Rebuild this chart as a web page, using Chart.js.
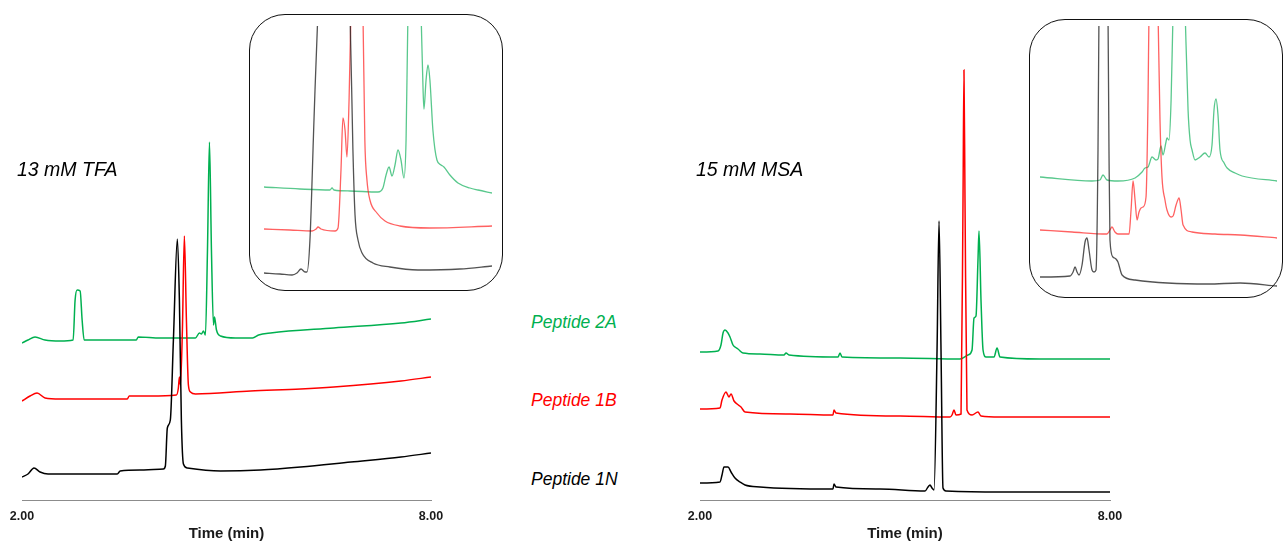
<!DOCTYPE html>
<html>
<head>
<meta charset="utf-8">
<script src="https://cdn.jsdelivr.net/npm/chart.js@4.4.0/dist/chart.umd.min.js"></script>
<style>
body { margin: 0; width: 1284px; height: 541px; overflow: hidden; background: #fff; position: relative; font-family: "Liberation Sans", Arial, sans-serif; }
canvas { position: absolute; }
.box { position: absolute; box-sizing: border-box; border: 1.6px solid #111; border-radius: 36px; background: #fff; }
.lbl { position: absolute; font-style: italic; line-height: 1; white-space: nowrap; }
</style>
</head>
<body>
<canvas id="tfaMain" width="460" height="543" style="left:0;top:0"></canvas>
<canvas id="msaMain" width="460" height="543" style="left:678px;top:0"></canvas>
<div class="box" style="left:249px;top:14px;width:254px;height:277px"></div>
<canvas id="tfaZoom" width="228" height="264" style="left:264px;top:26px"></canvas>
<div class="box" style="left:1029px;top:19px;width:254px;height:279px"></div>
<canvas id="msaZoom" width="237" height="272" style="left:1040px;top:26px"></canvas>

<div class="lbl" style="left:17px;top:160px;font-size:19.5px">13 mM TFA</div>
<div class="lbl" style="left:696px;top:160px;font-size:19.5px">15 mM MSA</div>
<div class="lbl" style="left:531px;top:314px;font-size:17.5px;color:#00b050">Peptide 2A</div>
<div class="lbl" style="left:531px;top:392px;font-size:17.5px;color:#ff0000">Peptide 1B</div>
<div class="lbl" style="left:531px;top:471px;font-size:17.5px;color:#000">Peptide 1N</div>

<script>
// [time (min), signal (a.u., stacked)]
tfa1N = [[2.000,23],[2.088,26],[2.176,32],[2.265,28],[2.382,26],[2.853,26],[3.397,26],[3.441,29],[3.735,30],[4.074,31],[4.103,34],[4.132,72],[4.176,80],[4.221,160],[4.279,261],[4.309,200],[4.338,80],[4.368,36],[4.426,32],[4.912,29],[5.500,30],[6.088,33],[6.824,38],[7.559,43],[8.000,47]]
tfa1B = [[2.000,99],[2.118,104],[2.221,107],[2.338,102],[2.559,101],[3.544,101],[3.574,104],[3.882,104],[4.265,105],[4.294,112],[4.309,123],[4.324,115],[4.353,170],[4.382,264],[4.412,180],[4.441,115],[4.471,108],[4.544,106],[5.353,109],[6.088,111],[6.574,113],[7.559,119],[8.000,123]]
tfa2A = [[2.000,157],[2.088,160],[2.191,163],[2.338,160],[2.559,159],[2.750,160],[2.779,200],[2.809,210],[2.853,209],[2.882,180],[2.912,160],[3.147,160],[3.676,160],[3.706,163],[4.029,162],[4.544,162],[4.603,167],[4.632,166],[4.662,169],[4.691,165],[4.721,250],[4.750,358],[4.779,250],[4.809,175],[4.824,183],[4.853,170],[4.912,164],[5.132,162],[5.382,162],[5.471,165],[5.647,167],[6.574,172],[7.559,177],[8.000,181]]

msa1N = [[2.000,17],[2.293,18],[2.322,25],[2.351,33],[2.410,33],[2.454,28],[2.512,22],[2.585,18],[2.659,15],[2.878,13],[3.946,11],[3.961,16],[3.990,13],[4.634,11],[5.293,9],[5.337,13],[5.366,15],[5.395,12],[5.425,10],[5.469,150],[5.498,279],[5.527,150],[5.556,12],[5.600,9],[6.390,8],[8.000,8]]
msa1B = [[2.000,91],[2.293,92],[2.322,100],[2.381,108],[2.424,103],[2.454,106],[2.498,99],[2.542,96],[2.600,93],[2.659,88],[3.317,86],[3.946,85],[3.961,90],[3.990,87],[4.927,84],[5.659,83],[5.688,85],[5.717,90],[5.746,85],[5.820,86],[5.849,300],[5.863,430],[5.878,300],[5.907,90],[5.981,85],[6.068,88],[6.112,84],[6.390,83],[8.000,83]]
msa2A = [[2.000,148],[2.263,149],[2.307,155],[2.337,167],[2.366,170],[2.410,167],[2.439,163],[2.483,155],[2.512,153],[2.556,151],[2.629,147],[2.878,146],[3.229,145],[3.259,147],[3.302,145],[4.020,143],[4.049,147],[4.078,143],[4.927,142],[5.805,141],[5.922,145],[5.981,150],[6.010,182],[6.039,184],[6.068,240],[6.083,269],[6.112,200],[6.127,170],[6.142,150],[6.186,143],[6.303,143],[6.347,152],[6.390,143],[6.976,141],[8.000,141]]

// zoomed insets
tfaZoom1N = [[3.850,17],[3.941,16],[4.010,15],[4.038,17],[4.061,21],[4.084,18],[4.095,18],[4.112,50],[4.135,170],[4.158,280],[4.243,490],[4.340,280],[4.357,140],[4.369,75],[4.386,50],[4.409,37],[4.471,27],[4.568,23],[4.728,20],[4.967,21],[5.150,24]]
tfaZoom1B = [[3.850,61],[3.998,60],[4.124,59],[4.147,61],[4.158,63],[4.175,61],[4.255,59],[4.272,62],[4.289,120],[4.300,172],[4.312,160],[4.323,133],[4.335,190],[4.346,280],[4.380,490],[4.414,280],[4.425,150],[4.437,110],[4.454,90],[4.494,77],[4.540,69],[4.625,64],[4.796,62],[5.150,64]]
tfaZoom2A = [[3.850,103],[4.055,101],[4.226,100],[4.238,102],[4.249,100],[4.340,99],[4.500,98],[4.528,102],[4.546,115],[4.563,123],[4.580,114],[4.597,125],[4.614,140],[4.631,130],[4.648,112],[4.660,150],[4.671,280],[4.705,490],[4.745,280],[4.757,200],[4.762,181],[4.774,210],[4.785,225],[4.796,210],[4.813,160],[4.836,130],[4.859,125],[4.876,123],[4.910,115],[4.956,107],[5.024,102],[5.070,100],[5.150,97]]

msaZoom1N = [[5.000,21],[5.241,22],[5.265,26],[5.281,31],[5.297,26],[5.313,23],[5.337,33],[5.361,56],[5.377,60],[5.393,48],[5.417,28],[5.433,26],[5.449,28],[5.465,148],[5.473,288],[5.505,498],[5.545,288],[5.553,148],[5.561,58],[5.585,41],[5.609,39],[5.625,36],[5.658,23],[5.762,18],[6.347,14],[6.604,15],[6.901,12]]
msaZoom1B = [[5.000,68],[5.257,66],[5.537,64],[5.561,68],[5.577,71],[5.601,66],[5.625,64],[5.714,64],[5.730,88],[5.746,117],[5.762,98],[5.778,78],[5.794,86],[5.810,90],[5.826,91],[5.850,101],[5.866,198],[5.874,288],[5.914,498],[5.946,288],[5.962,178],[5.978,121],[6.002,98],[6.018,88],[6.051,81],[6.067,82],[6.091,93],[6.115,100],[6.131,88],[6.147,73],[6.219,66],[6.403,64],[6.604,63],[6.901,60]]
msaZoom2A = [[5.000,121],[5.417,117],[5.481,118],[5.505,123],[5.537,118],[5.625,117],[5.762,120],[5.818,126],[5.842,130],[5.866,131],[5.898,141],[5.930,138],[5.946,139],[5.970,152],[5.986,143],[6.010,156],[6.018,160],[6.034,158],[6.051,198],[6.067,288],[6.115,498],[6.163,288],[6.187,188],[6.203,158],[6.219,148],[6.243,138],[6.283,141],[6.323,145],[6.355,141],[6.379,153],[6.395,188],[6.411,199],[6.427,183],[6.443,148],[6.476,135],[6.500,130],[6.564,125],[6.620,122],[6.901,117]]

xTicks = [2, 8]
axisTitle = 'Time (min)'
fontFam = '"Liberation Sans", Arial, sans-serif'

function pts(arr){
	return arr.map(function(p){ return {x: p[0], y: p[1]} })
}

function line(arr, color, width){
	return {
		data: pts(arr),
		borderColor: color,
		borderWidth: width,
		pointRadius: 0,
		fill: false,
		cubicInterpolationMode: 'monotone'
	}
}

function mainChart(id, traces, ymax, padTop, padRight){
	var ctx = document.getElementById(id).getContext('2d');
	return new Chart(ctx, {
		type: 'line',
		data: {datasets: [
			line(traces[0], '#000000', 1.5),
			line(traces[1], '#ff0000', 1.5),
			line(traces[2], '#00b050', 1.5)
		]},
		options: {
			responsive: false,
			animation: false,
			devicePixelRatio: 1,
			layout: {padding: {left: 22, right: padRight, top: padTop, bottom: 0}},
			plugins: {legend: {display: false}, tooltip: {enabled: false}},
			scales: {
				x: {
					type: 'linear', min: 2, max: 8,
					afterBuildTicks: function(s){ s.ticks = xTicks.map(function(v){ return {value: v} }) },
					grid: {drawOnChartArea: false, drawTicks: false},
					border: {display: true, color: '#8c8c8c', width: 1},
					ticks: {padding: 9.5, color: '#1a1a1a', font: {family: fontFam, size: 12.5, weight: 'bold'},
						callback: function(v){ return Number(v).toFixed(2) }},
					title: {display: true, text: axisTitle, color: '#1a1a1a', padding: {top: -9, bottom: 0},
						font: {family: fontFam, size: 15, weight: 'bold'}}
				},
				y: {display: false, min: 0, max: ymax}
			}
		}
	});
}

function zoomChart(id, traces, xmin, xmax, ymax){
	var ctx = document.getElementById(id).getContext('2d');
	return new Chart(ctx, {
		type: 'line',
		data: {datasets: [
			line(traces[0], 'rgba(40,40,40,0.8)', 1.3),
			line(traces[1], 'rgba(255,30,30,0.7)', 1.3),
			line(traces[2], 'rgba(0,170,80,0.65)', 1.3)
		]},
		options: {
			responsive: false,
			animation: false,
			devicePixelRatio: 1,
			layout: {padding: 0},
			plugins: {legend: {display: false}, tooltip: {enabled: false}},
			scales: {
				x: {type: 'linear', display: false, min: xmin, max: xmax},
				y: {display: false, min: 0, max: ymax}
			}
		}
	});
}

mainChart('tfaMain', [tfa1N, tfa1B, tfa2A], 380, 120, 29)
mainChart('msaMain', [msa1N, msa1B, msa2A], 440, 60, 28)
zoomChart('tfaZoom', [tfaZoom1N, tfaZoom1B, tfaZoom2A], 3.85, 5.15, 264)
zoomChart('msaZoom', [msaZoom1N, msaZoom1B, msaZoom2A], 5.0, 6.9, 272)
</script>
</body>
</html>
